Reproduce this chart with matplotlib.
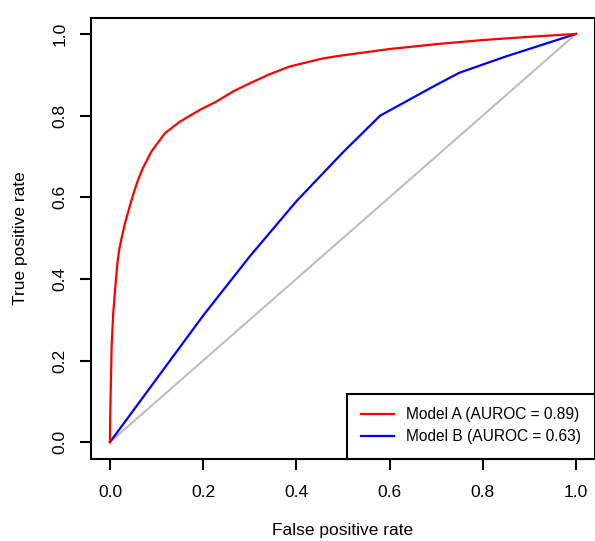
import matplotlib
matplotlib.use("Agg")
import matplotlib.pyplot as plt

# Data
fpr_a = [0.0, 0.0005, 0.0015, 0.0036, 0.007, 0.011, 0.016, 0.020, 0.025, 0.032,
         0.043, 0.050, 0.058, 0.070, 0.089, 0.107, 0.118, 0.150, 0.193, 0.228,
         0.264, 0.300, 0.340, 0.385, 0.457, 0.490, 0.600, 0.700, 0.800, 0.900, 1.0]
tpr_a = [0.0, 0.06, 0.12, 0.234, 0.315, 0.373, 0.438, 0.472, 0.500, 0.535,
         0.580, 0.607, 0.635, 0.670, 0.712, 0.740, 0.757, 0.785, 0.814, 0.834,
         0.859, 0.879, 0.900, 0.920, 0.940, 0.946, 0.963, 0.975, 0.985, 0.993, 1.0]
fpr_b = [0.0, 0.1, 0.2, 0.3, 0.4, 0.5, 0.58, 0.7, 0.75, 0.85, 1.0]
tpr_b = [0.0, 0.155, 0.31, 0.455, 0.59, 0.71, 0.80, 0.875, 0.905, 0.945, 1.0]
label_a = "Model A (AUROC = 0.89)"
label_b = "Model B (AUROC = 0.63)"
ticks = [0.0, 0.2, 0.4, 0.6, 0.8, 1.0]
tick_labels = ["0.0", "0.2", "0.4", "0.6", "0.8", "1.0"]

plt.rcParams['font.family'] = ['Liberation Sans', 'DejaVu Sans']

W, H = 595, 541
fig = plt.figure(figsize=(W / 100, H / 100), dpi=100)
left, right, top, bottom = 91.3, 594.6, 17.6, 458.5
ax = fig.add_axes([left / W, 1 - bottom / H, (right - left) / W, (bottom - top) / H])

ax.plot([0, 1], [0, 1], color='#bebebe', lw=1.5, zorder=1)
ax.plot(fpr_a, tpr_a, color='#ff0000', lw=1.6, label=label_a, zorder=3)
ax.plot(fpr_b, tpr_b, color='#0000ff', lw=1.6, label=label_b, zorder=2)

ax.set_xlim(-0.04, 1.04)
ax.set_ylim(-0.04, 1.04)
ax.set_xticks(ticks)
ax.set_xticklabels(tick_labels)
ax.set_yticks(ticks)
ax.set_yticklabels(tick_labels, rotation=90, va='center')
ax.tick_params(axis='both', direction='out', length=8, width=1.5, labelsize=12.5,
               colors='black')
ax.tick_params(axis='x', pad=11)
ax.tick_params(axis='y', pad=9)
for s in ax.spines.values():
    s.set_linewidth(1.5)
    s.set_color('black')

ax.set_xlabel("False positive rate", fontsize=12.5, labelpad=17)
ax.set_ylabel("True positive rate", fontsize=12.5, labelpad=18)

leg = ax.legend(loc='lower right', borderaxespad=0, fancybox=False, framealpha=1,
                edgecolor='black', fontsize=11.2, handlelength=2.1, handletextpad=0.75,
                labelspacing=0.45, borderpad=0.9)
leg.get_frame().set_linewidth(1.5)

fig.savefig("out.png", dpi=100)
